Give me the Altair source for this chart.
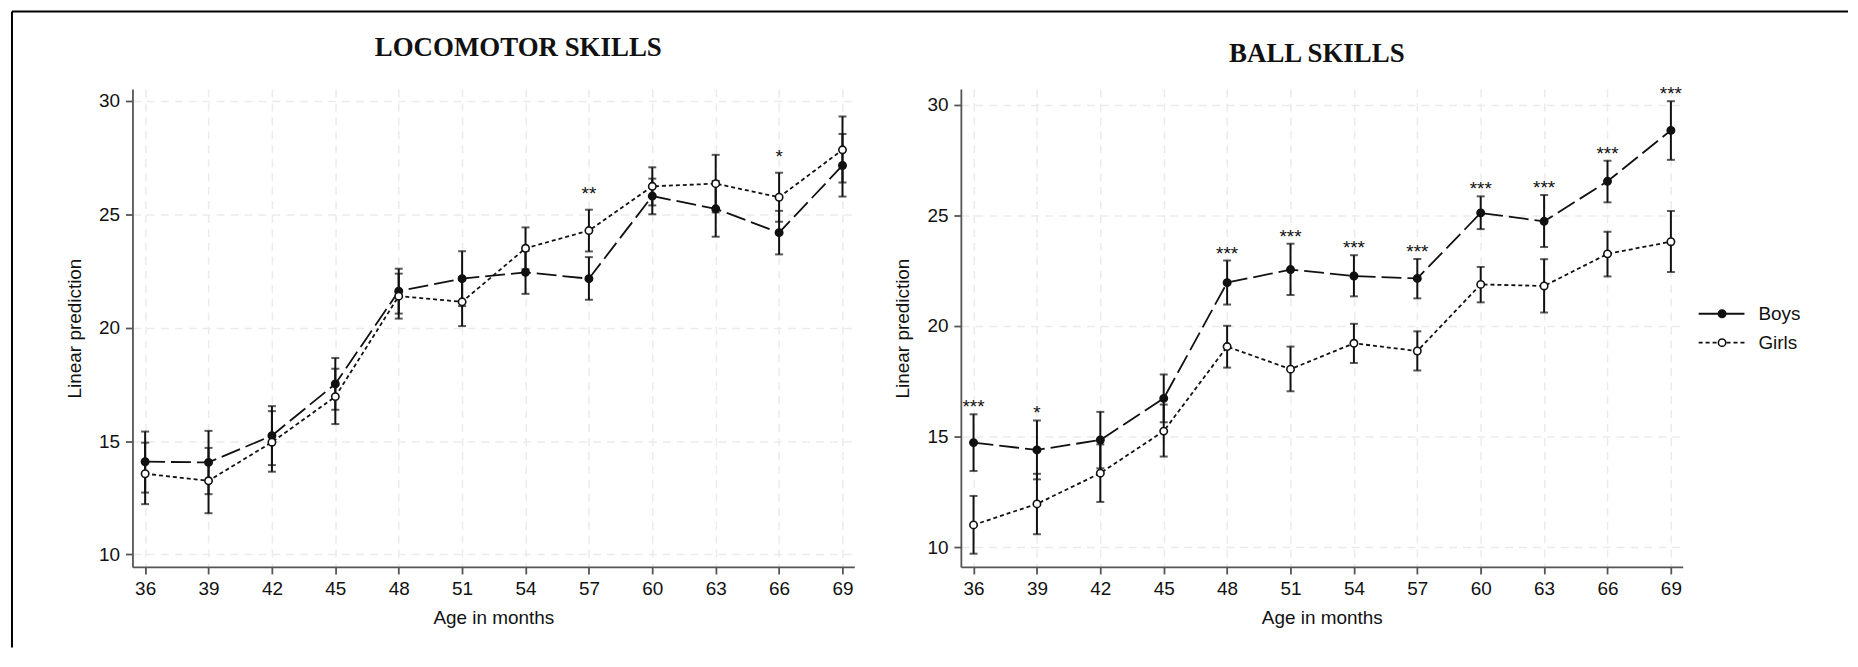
import altair as alt
import pandas as pd

ages = [36, 39, 42, 45, 48, 51, 54, 57, 60, 63, 66, 69]
groups = ["Boys", "Girls"]
y_ticks = [10, 15, 20, 25, 30]

# LOCOMOTOR SKILLS
loco_boys_mean = [14.09, 14.06, 15.24, 17.52, 21.61, 22.16, 22.44, 22.16, 25.80, 25.24, 24.19, 27.15]
loco_boys_lo = [12.73, 12.66, 13.94, 16.38, 20.62, 20.95, 21.49, 21.23, 25.00, 24.01, 23.23, 25.78]
loco_boys_hi = [15.42, 15.45, 16.54, 18.66, 22.60, 23.37, 23.39, 23.11, 26.57, 26.47, 25.15, 28.54]
loco_girls_mean = [13.56, 13.25, 14.95, 16.96, 21.39, 21.14, 23.50, 24.28, 26.23, 26.35, 25.75, 27.84]
loco_girls_lo = [12.22, 11.82, 13.65, 15.75, 20.40, 20.07, 22.58, 23.36, 25.39, 25.08, 24.67, 26.40]
loco_girls_hi = [14.93, 14.70, 16.32, 18.19, 22.38, 22.21, 24.42, 25.20, 27.07, 27.62, 26.83, 29.31]
loco_star_ages = [57, 66]
loco_star_labels = ["**", "*"]

# BALL SKILLS
ball_boys_mean = [14.72, 14.39, 14.84, 16.72, 21.95, 22.54, 22.25, 22.14, 25.10, 24.72, 26.53, 28.83]
ball_boys_lo = [13.44, 13.06, 13.56, 15.64, 20.96, 21.39, 21.33, 21.24, 24.37, 23.56, 25.58, 27.50]
ball_boys_hi = [16.00, 15.72, 16.11, 17.80, 22.95, 23.71, 23.19, 23.02, 25.85, 25.91, 27.46, 30.15]
ball_girls_mean = [11.00, 11.95, 13.34, 15.24, 19.06, 18.04, 19.21, 18.86, 21.87, 21.80, 23.25, 23.80]
ball_girls_lo = [9.70, 10.58, 12.04, 14.09, 18.11, 17.04, 18.32, 17.98, 21.06, 20.60, 22.23, 22.43]
ball_girls_hi = [12.31, 13.31, 14.64, 16.44, 20.00, 19.06, 20.09, 19.75, 22.66, 23.01, 24.25, 25.19]
ball_star_ages = [36, 39, 48, 51, 54, 57, 60, 63, 66, 69]
ball_star_labels = ["***", "*", "***", "***", "***", "***", "***", "***", "***", "***"]

legend_labels = ["Boys", "Girls"]

INK = "#111111"
FONT = "Liberation Sans"


def build_df(bm, bl, bh, gm, gl, gh):
    rows = []
    for i, a in enumerate(ages):
        rows.append({"age": a, "group": "Boys", "mean": bm[i], "lo": bl[i], "hi": bh[i]})
        rows.append({"age": a, "group": "Girls", "mean": gm[i], "lo": gl[i], "hi": gh[i]})
    return pd.DataFrame(rows)


def build_stars(df, star_ages, star_labels):
    rows = []
    for a, s in zip(star_ages, star_labels):
        rows.append({"age": a, "stars": s, "top": float(df[df["age"] == a]["hi"].max())})
    return pd.DataFrame(rows)


def panel(df, sdf, title, ydom, t_dy, t_dx, star_dy):
    xs = alt.Scale(domain=[35.4, 69.56], nice=False, zero=False)
    ys = alt.Scale(domain=ydom, nice=False, zero=False)
    xax = alt.Axis(values=ages, title="Age in months", format="d")
    yax = alt.Axis(values=y_ticks, title="Linear prediction", format="d")

    def X():
        return alt.X("age:Q", scale=xs, axis=xax)

    def Y(f):
        return alt.Y(f + ":Q", scale=ys, axis=yax)

    base = alt.Chart(df)
    bars = base.mark_rule(color=INK, strokeWidth=2).encode(x=X(), y=Y("lo"), y2="hi:Q")
    cap_lo = base.mark_tick(color=INK, orient="horizontal", size=8, thickness=2).encode(x=X(), y=Y("lo"))
    cap_hi = base.mark_tick(color=INK, orient="horizontal", size=8, thickness=2).encode(x=X(), y=Y("hi"))
    lines = base.mark_line(color=INK, strokeWidth=1.8).encode(
        x=X(), y=Y("mean"),
        strokeDash=alt.StrokeDash("group:N", scale=alt.Scale(domain=groups, range=[[20, 6], [4, 3]]), legend=None),
        detail="group:N",
    )
    pts = base.mark_point(shape="circle", size=55, stroke=INK, strokeWidth=1.6, opacity=1, fillOpacity=1).encode(
        x=X(), y=Y("mean"),
        fill=alt.Fill("group:N", scale=alt.Scale(domain=groups, range=[INK, "#ffffff"]), legend=None),
    )
    stars = alt.Chart(sdf).mark_text(font=FONT, fontSize=19, color=INK, baseline="alphabetic", align="center", dy=star_dy).encode(
        x=X(), y=Y("top"), text="stars:N"
    )
    return alt.layer(bars, cap_lo, cap_hi, lines, pts, stars).properties(
        width=725, height=480,
        title=alt.Title(title, font="Liberation Serif", fontSize=27, fontWeight="bold", color=INK,
                        anchor="middle", frame="group", offset=30, dx=t_dx, dy=t_dy, baseline="alphabetic"),
    )


loco_df = build_df(loco_boys_mean, loco_boys_lo, loco_boys_hi, loco_girls_mean, loco_girls_lo, loco_girls_hi)
ball_df = build_df(ball_boys_mean, ball_boys_lo, ball_boys_hi, ball_girls_mean, ball_girls_lo, ball_girls_hi)
loco_stars = build_stars(loco_df, loco_star_ages, loco_star_labels)
ball_stars = build_stars(ball_df, ball_star_ages, ball_star_labels)

left = panel(loco_df, loco_stars, "LOCOMOTOR SKILLS", [9.45, 30.52], 24, 25, -10)
right = panel(ball_df, ball_stars, "BALL SKILLS", [9.10, 30.70], 34, -5, -1)

spacer = alt.Chart(pd.DataFrame({"v": [0]})).mark_text(text="").encode(
    x=alt.value(0), y=alt.value(0)).properties(width=85, height=480)

# legend panel (with page frame)
leg_df = pd.DataFrame({"label": legend_labels})
leg_y = alt.Y("label:N", scale=alt.Scale(type="point", domain=legend_labels, range=[225.7, 254.7], padding=0), axis=None)
leg_base = alt.Chart(leg_df)
leg_line = leg_base.mark_rule(color=INK, strokeWidth=1.8).encode(
    x=alt.value(5), x2=alt.value(52), y=leg_y,
    strokeDash=alt.StrokeDash("label:N", scale=alt.Scale(domain=legend_labels, range=[[1, 0], [4, 3]]), legend=None),
)
leg_pts = leg_base.mark_point(shape="circle", size=55, stroke=INK, strokeWidth=1.6, opacity=1, fillOpacity=1).encode(
    x=alt.value(28.5), y=leg_y,
    fill=alt.Fill("label:N", scale=alt.Scale(domain=legend_labels, range=[INK, "#ffffff"]), legend=None),
)
leg_txt = leg_base.mark_text(font=FONT, fontSize=19, color=INK, align="left", baseline="middle").encode(
    x=alt.value(65), y=leg_y, text="label:N"
)
frame_df = pd.DataFrame({"v": [0]})
frame_top = alt.Chart(frame_df).mark_rule(color="#000000", strokeWidth=2).encode(
    x=alt.value(-1689), x2=alt.value(155), y=alt.value(-78))
frame_left = alt.Chart(frame_df).mark_rule(color="#000000", strokeWidth=2).encode(
    x=alt.value(-1689), y=alt.value(-78), y2=alt.value(561))
legend_panel = alt.layer(leg_line, leg_pts, leg_txt, frame_top, frame_left).properties(width=140, height=480)

chart = alt.hconcat(left, spacer, right, legend_panel, spacing=11, bounds="flush").properties(
    padding={"left": 2, "top": 0, "right": 0, "bottom": 0},
    background="#ffffff",
).configure_axis(
    domainColor="#555555", domainWidth=1.8, tickColor="#555555", tickWidth=1.8, tickSize=7,
    labelFont=FONT, labelFontSize=19, labelColor=INK, labelPadding=6,
    titleFont=FONT, titleFontSize=19, titleFontWeight="normal", titleColor=INK,
    gridColor="#ebebeb", gridDash=[8, 6], gridWidth=1.5,
).configure_axisX(titlePadding=10).configure_axisY(titlePadding=14).configure_view(stroke="transparent")

chart.save("out.html", embed_options={"renderer": "svg", "actions": False})
